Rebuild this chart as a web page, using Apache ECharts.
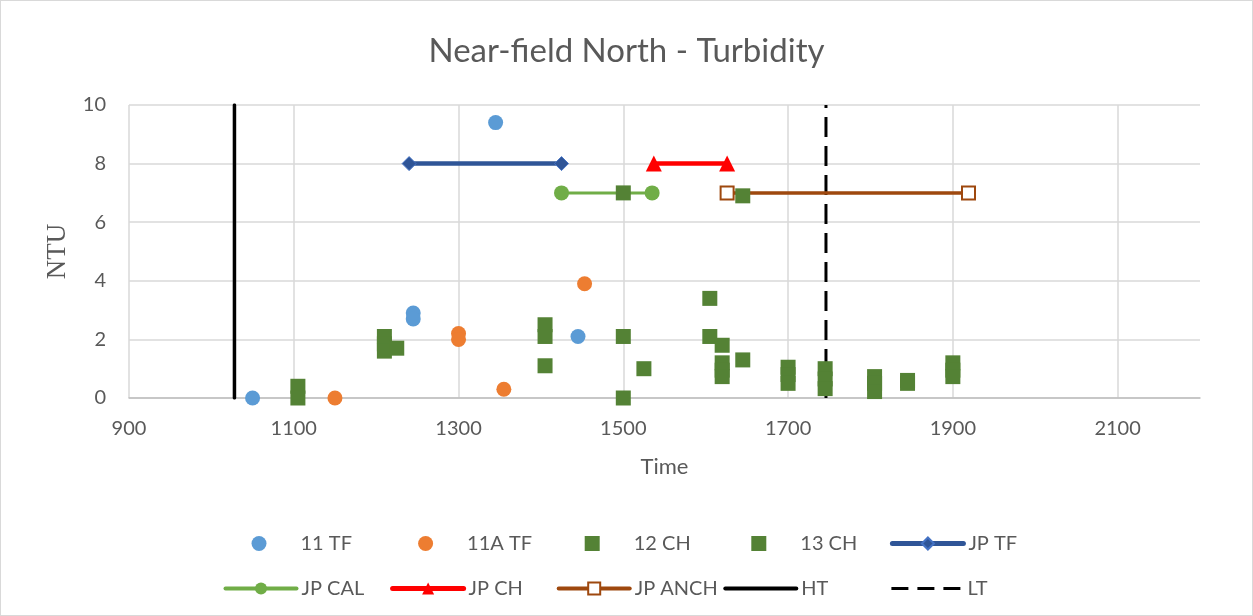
<!DOCTYPE html>
<html>
<head>
<meta charset="utf-8">
<script src="https://cdn.jsdelivr.net/npm/echarts@6/dist/echarts.min.js"></script>
<style>
html,body{margin:0;padding:0;background:#fff;}
#wrap{position:absolute;left:0;top:0;width:1251px;height:614px;border:1px solid #d9d9d9;}
#chart{width:1251px;height:614px;}
</style>
</head>
<body>
<div id="wrap"><div id="chart"></div></div>
<script>
// ---- data ----
const title = 'Near-field North - Turbidity';
const xName = 'Time';
const yName = 'NTU';
const xTicks = [900, 1100, 1300, 1500, 1700, 1900, 2100];
const yTicks = [0, 2, 4, 6, 8, 10];

const s11TF = [[1050, 0], [1245, 2.9], [1245, 2.7], [1345, 9.4], [1445, 2.1]];
const s11ATF = [[1150, 0], [1300, 2.2], [1300, 2.0], [1355, 0.3], [1453, 3.9]];
const s12CH = [[1105, 0.4], [1105, 0], [1210, 2.1], [1210, 1.85], [1210, 1.6], [1225, 1.7],
  [1405, 2.5], [1405, 2.1], [1405, 1.1], [1500, 7.0], [1500, 2.1], [1500, 0], [1525, 1.0]];
const s13CH = [[1605, 3.4], [1605, 2.1], [1620, 1.8], [1620, 1.2], [1620, 0.95], [1620, 0.73],
  [1645, 6.9], [1645, 1.3], [1700, 1.05], [1700, 0.8], [1700, 0.5], [1745, 1.0], [1745, 0.65],
  [1745, 0.32], [1805, 0.73], [1805, 0.5], [1805, 0.22], [1845, 0.6], [1845, 0.5],
  [1900, 1.2], [1900, 0.95], [1900, 0.73]];
const jpTF = [[1240, 8], [1425, 8]];
const jpCAL = [[1425, 7], [1535, 7]];
const jpCH = [[1537, 8], [1626, 8]];
const jpANCH = [[1626, 7], [1919, 7]];
const ht = [[1028, 0], [1028, 10]];
const lt = [[1746, 0], [1746, 10]];

const legendRows = [
  ['11 TF', '11A TF', '12 CH', '13 CH', 'JP TF'],
  ['JP CAL', 'JP CH', 'JP ANCH', 'HT', 'LT']
];

// ---- chart ----
const FONT = 'Lato';
const TXT = '#595959';
const chart = echarts.init(document.getElementById('chart'), null, {renderer: 'canvas'});

const legendIcons = {'11 TF': 'circle', '11A TF': 'circle', '12 CH': 'rect', '13 CH': 'rect'};
const legendLine = {
  'JP TF': {width: 5}, 'JP CAL': {width: 4}, 'JP CH': {width: 5}, 'JP ANCH': {width: 4},
  'HT': {width: 4}, 'LT': {width: 3, type: [17, 9]}
};

const legends = [];
const colCenters = [258, 424.6, 591.2, 757.8, 924.4];
const rowCenters = [540, 585];
legendRows.forEach((row, r) => {
  row.forEach((name, c) => {
    const item = {name: name};
    const marker = !!legendIcons[name];
    if (marker) item.icon = legendIcons[name];
    const w = marker ? 15 : 71;
    const lg = {
      data: [item],
      left: colCenters[c] - w / 2,
      top: rowCenters[r] - 7.5,
      itemWidth: w,
      itemHeight: 15,
      padding: 0,
      selectedMode: false,
      textStyle: {fontFamily: FONT, fontSize: 20, color: TXT, padding: marker ? [0, 0, 0, 29] : 0}
    };
    if (legendLine[name]) lg.lineStyle = legendLine[name];
    if (name === 'HT' || name === 'LT') lg.itemStyle = {opacity: 0};
    legends.push(lg);
  });
});

function scatter(name, data, symbol, color) {
  return {name, type: 'scatter', data, symbol, symbolSize: 15, z: 4,
    itemStyle: {color: color, opacity: 1}};
}
function seg(name, data, symbol, size, color, width, extra) {
  return Object.assign({name, type: 'line', data, symbol, symbolSize: size, showSymbol: symbol !== 'none',
    z: 3, lineStyle: {color: color, width: width, cap: 'round'}, itemStyle: {color: color}}, extra || {});
}

chart.setOption({
  animation: false,
  title: {text: title, left: 'center', top: 29,
    textStyle: {fontFamily: FONT, fontSize: 33, fontWeight: 'normal', color: TXT}},
  legend: legends,
  grid: {left: 128, right: 52, top: 104, bottom: 217, containLabel: false},
  xAxis: {
    type: 'value', min: 900, max: 2200, interval: 200,
    name: xName, nameLocation: 'middle', nameGap: 58,
    nameTextStyle: {fontFamily: FONT, fontSize: 22, color: TXT},
    axisLine: {show: true, lineStyle: {color: '#bfbfbf', width: 1.5}},
    axisTick: {show: false},
    axisLabel: {fontFamily: FONT, fontSize: 20, color: TXT, margin: 21, showMaxLabel: false,
      formatter: v => xTicks.indexOf(v) >= 0 ? String(v) : ''},
    splitLine: {show: true, showMaxLine: false, lineStyle: {color: '#d9d9d9', width: 1.5}}
  },
  yAxis: {
    type: 'value', min: 0, max: 10, interval: 2,
    name: yName, nameLocation: 'middle', nameGap: 58, nameRotate: 90,
    nameTextStyle: {fontFamily: 'Liberation Serif', fontSize: 27, color: TXT},
    axisLine: {show: false}, axisTick: {show: false},
    axisLabel: {fontFamily: FONT, fontSize: 20, color: TXT, margin: 23,
      formatter: v => yTicks.indexOf(v) >= 0 ? String(v) : ''},
    splitLine: {show: true, lineStyle: {color: '#d9d9d9', width: 1.5}}
  },
  series: [
    scatter('11 TF', s11TF, 'circle', '#5b9bd5'),
    scatter('11A TF', s11ATF, 'circle', '#ed7d31'),
    scatter('12 CH', s12CH, 'rect', '#548235'),
    scatter('13 CH', s13CH, 'rect', '#548235'),
    seg('JP TF', jpTF, 'diamond', 14, '#2f5597', 4.5, {itemStyle: {color: '#2f5597', borderColor: '#4472c4', borderWidth: 1}}),
    seg('JP CAL', jpCAL, 'circle', 15, '#70ad47', 3),
    seg('JP CH', jpCH, 'triangle', 16, '#ff0000', 4.5),
    seg('JP ANCH', jpANCH, 'rect', 13, '#9e480e', 3.5, {itemStyle: {color: '#ffffff', borderColor: '#9e480e', borderWidth: 2}}),
    seg('HT', ht, 'none', 0, '#000000', 3.5, {z: 2}),
    seg('LT', lt, 'none', 0, '#000000', 3, {z: 2, lineStyle: {color: '#000000', width: 3, type: [20, 9]}})
  ]
});
</script>
</body>
</html>
